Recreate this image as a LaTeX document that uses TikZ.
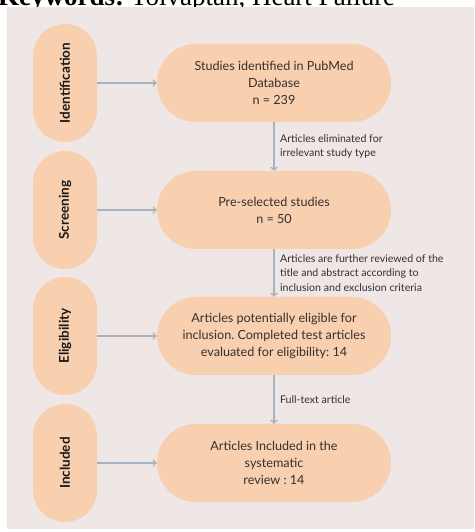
\documentclass[tikz,border=0pt]{standalone}
\usepackage{graphicx}
\usepackage{fontspec}
\setmainfont{Lato}
\newfontfamily\kwfont{Liberation Serif}
\usetikzlibrary{positioning}
\frenchspacing
\definecolor{panelbg}{RGB}{239,230,230}
\definecolor{peach}{RGB}{248,207,175}
\definecolor{flowgray}{RGB}{168,178,190}
\definecolor{inkgray}{RGB}{55,48,46}
\tikzset{
  stage/.style={rectangle, rounded corners=32pt, fill=peach, minimum width=64pt,
    minimum height=118pt, inner sep=0pt, text=black!90,
    font=\fontsize{13.5}{15}\selectfont\bfseries},
  record/.style={rectangle, rounded corners=39pt, fill=peach, minimum width=234pt,
    minimum height=78pt, inner sep=0pt, align=center, text=inkgray,
    font=\fontsize{12.6}{17}\selectfont},
  flow/.style={->, draw=flowgray, line width=1.6pt},
  remark/.style={anchor=west, align=left, xshift=2pt, text=inkgray,
    font=\fontsize{10.6}{14.5}\selectfont},
}

\begin{document}
\begin{tikzpicture}[x=1pt, y=1pt]
    % Frame
    \useasboundingbox (0,0) rectangle (474,532);
    \clip (0,0) rectangle (474,532);
    \node[anchor=base west, inner sep=0pt, font=\kwfont\fontsize{27}{30}\selectfont] (kw)
      at (-2,526) {\textbf{Keywords:} Tolvaptan, Heart Failure};
    \fill[panelbg] (7,3) rectangle (474,525);

    % Stages
    \node[stage] (idn) at (65,449) {\rotatebox{90}{Identification}};
    \node[stage] (scr) at (65,322) {\rotatebox{90}{Screening}};
    \node[stage] (elg) at (65,196) {\rotatebox{90}{Eligibility}};
    \node[stage] (inc) at (65,69) {\rotatebox{90}{Included}};

    % Records
    \node[record] (found) at (274,449) {Studies identified in PubMed\\Database\\n = 239};
    \node[record] (chosen) at (274,322) {Pre-selected studies\\n = 50};
    \node[record] (eligible) at (274,196) {Articles potentially eligible for\\inclusion. Completed test articles\\evaluated for eligibility: 14};
    \node[record] (kept) at (274,69) {Articles Included in the\\systematic\\review : 14};

    % Stage arrows
    \draw[flow] (idn) -- (found);
    \draw[flow] (scr) -- (chosen);
    \draw[flow] (elg) -- (eligible);
    \draw[flow] (inc) -- (kept);

    % Review steps
    \draw[flow] (found) -- node[remark] {Articles eliminated for\\irrelevant study type} (chosen);
    \draw[flow] (chosen) -- node[remark] {Articles are further reviewed of the\\title and abstract according to\\inclusion and exclusion criteria} (eligible);
    \draw[flow] (eligible) -- node[remark] {Full-text article} (kept);
\end{tikzpicture}
\end{document}
